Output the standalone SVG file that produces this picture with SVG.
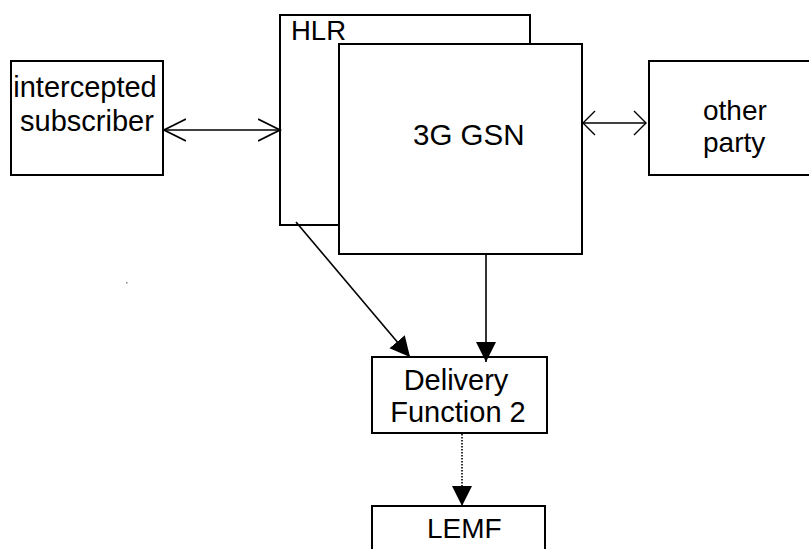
<svg xmlns="http://www.w3.org/2000/svg" width="809" height="549" viewBox="0 0 809 549">
<style>
.box{fill:#fff;stroke:#000;stroke-width:2}
.lbl{font-family:"Liberation Sans",Arial,sans-serif;fill:#000}
.con{fill:none;stroke:#000;stroke-width:1.6}
</style>
<defs>
<marker id="fill" markerUnits="userSpaceOnUse" markerWidth="22" markerHeight="22" refX="20" refY="10" orient="auto" viewBox="0 0 22 22">
<path d="M0,0 L20,10 L0,20 z" fill="#000"/>
</marker>
<marker id="open" markerUnits="userSpaceOnUse" markerWidth="26" markerHeight="26" refX="22" refY="12" orient="auto-start-reverse" viewBox="0 0 26 26">
<path d="M0,1 L22,12 L0,23" fill="none" stroke="#000" stroke-width="1.8"/>
</marker>
<marker id="open2" markerUnits="userSpaceOnUse" markerWidth="16" markerHeight="28" refX="13" refY="13" orient="auto-start-reverse" viewBox="0 0 16 28">
<path d="M1,1 L13,13 L1,25" fill="none" stroke="#000" stroke-width="1.4"/>
</marker>
</defs>
<rect x="126" y="282" width="1.5" height="1.5" fill="#888"/>
<g id="subscriber">
<rect class="box" x="11" y="61" width="152" height="114"/>
<text class="lbl" font-size="29" x="85" y="97" text-anchor="middle">intercepted</text>
<text class="lbl" font-size="29" x="87" y="131" text-anchor="middle">subscriber</text>
</g>
<g id="hlr">
<rect class="box" x="280" y="15" width="250" height="210"/>
<text class="lbl" font-size="27.5" x="291" y="40">HLR</text>
</g>
<g id="gsn">
<rect class="box" x="339" y="44" width="243" height="210"/>
<text class="lbl" font-size="29.5" x="413" y="145">3G GSN</text>
</g>
<g id="other">
<rect class="box" x="649" y="61" width="170" height="114"/>
<text class="lbl" font-size="28" x="703" y="120">other</text>
<text class="lbl" font-size="28" x="703" y="152">party</text>
</g>
<g id="df2">
<rect class="box" x="372" y="357" width="175" height="76"/>
<text class="lbl" font-size="29" x="456" y="390" text-anchor="middle">Delivery</text>
<text class="lbl" font-size="29" x="458" y="422" text-anchor="middle">Function 2</text>
</g>
<g id="lemf">
<rect class="box" x="372" y="506" width="173" height="60"/>
<text class="lbl" font-size="28" x="427" y="538">LEMF</text>
</g>
<g id="connectors">
<line class="con" x1="164" y1="130" x2="280" y2="130" marker-start="url(#open)" marker-end="url(#open)"/>
<line class="con" x1="583" y1="123" x2="646" y2="123" marker-start="url(#open2)" marker-end="url(#open2)"/>
<line class="con" x1="296" y1="222" x2="410" y2="357" marker-end="url(#fill)"/>
<line class="con" x1="486" y1="254" x2="486" y2="362" marker-end="url(#fill)"/>
<line class="con" x1="462" y1="434" x2="462" y2="506" stroke-dasharray="1.5 1.5" stroke-width="2" marker-end="url(#fill)"/>
</g>
</svg>
